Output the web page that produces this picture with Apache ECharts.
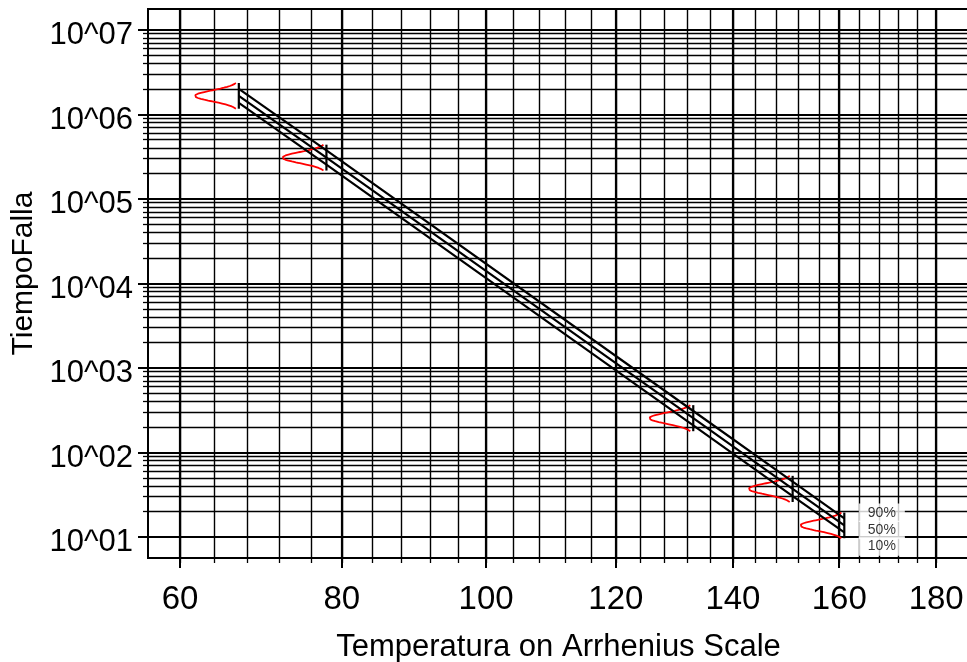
<!DOCTYPE html>
<html>
<head>
<meta charset="utf-8">
<script src="https://cdn.jsdelivr.net/npm/echarts@6/dist/echarts.min.js"></script>
<style>
  html, body { margin: 0; padding: 0; background: #fff; }
  #chart { width: 967px; height: 662px; }
</style>
</head>
<body>
<div id="chart"></div>
<script>
// Stress temperatures (°C) of the life test
const stressTemps = [67, 78, 133, 151, 161];
// Failure-time percentiles at each stress temperature
const time10 = [1.36e6, 2.53e5, 209, 30.4, 11.3];
const time50 = [1.65e6, 3.07e5, 254, 37.0, 13.7];
const time90 = [2.00e6, 3.73e5, 309, 45.0, 16.6];
const percentNames = ['10%', '50%', '90%'];

// Axis ticks
const tempMajorTicks = [60, 80, 100, 120, 140, 160, 180];
const tempMinorTicks = [60, 64, 68, 72, 76, 80, 84, 88, 92, 96, 100, 104, 108, 112, 116, 120,
                        124, 128, 132, 136, 140, 144, 148, 152, 156, 160, 164, 168, 172, 176, 180];
const decadeExponents = [1, 2, 3, 4, 5, 6, 7];
const subDecadeFactors = [2, 3, 4, 5, 6, 7, 8, 9];

const KELVIN = 273.15;
const FONT = '"Liberation Sans", Arial, sans-serif';
// Arrhenius coordinate: reciprocal absolute temperature
const arr = t => 1 / (t + KELVIN);
const lg = v => Math.log10(v);

const xRange = [arr(187.2), arr(56.3)];
const yRange = [0.751, 7.245];

// intermediate gridlines 2..9 x 10^n inside each labelled decade
const yMinorVals = [];
for (const e of decadeExponents) {
  for (const f of subDecadeFactors) {
    const v = e + lg(f);
    if (v > yRange[0] && v < yRange[1]) yMinorVals.push(v);
  }
}

// lognormal spread (log10) implied by the 10% / 90% percentiles
const Z90 = 1.2816, Z99 = 2.3263;
const sigmas = stressTemps.map((t, i) => (lg(time90[i]) - lg(time10[i])) / (2 * Z90));
// horizontal extent of the density curves, in reciprocal-kelvin units
const PDF_WIDTH = 4.63e-5;

function xAxisDef(vals, major) {
  return {
    type: 'value', position: 'bottom', inverse: true,
    min: xRange[0], max: xRange[1],
    name: major ? 'Temperatura on Arrhenius Scale' : '',
    nameLocation: 'middle', nameGap: 74,
    nameTextStyle: { fontFamily: FONT, fontSize: 31, color: '#000' },
    axisLine: { show: major, lineStyle: { color: '#000', width: 2 } },
    axisTick: { show: true, customValues: vals, length: major ? 10 : 5,
                lineStyle: { color: '#000', width: major ? 2 : 1.3 } },
    axisLabel: { show: major, customValues: vals, margin: 25,
                 fontFamily: FONT, fontSize: 33, color: '#000',
                 formatter: v => String(Math.round(1 / v - KELVIN)) },
    splitLine: { show: true, lineStyle: { color: '#000', width: major ? 2.2 : 1.4 } }
  };
}

function yAxisDef(vals, major) {
  return {
    type: 'value', position: 'left',
    min: yRange[0], max: yRange[1],
    name: major ? 'TiempoFalla' : '',
    nameLocation: 'middle', nameGap: 101,
    nameTextStyle: { fontFamily: FONT, fontSize: 30, color: '#000', padding: [0, 0, 0, 20] },
    axisLine: { show: major, lineStyle: { color: '#000', width: 2 } },
    axisTick: { show: true, customValues: vals, length: major ? 10 : 5,
                lineStyle: { color: '#000', width: major ? 2 : 1.3 } },
    axisLabel: { show: major, customValues: vals, margin: 15,
                 verticalAlign: 'top', lineHeight: 12,
                 fontFamily: FONT, fontSize: 31, color: '#000',
                 formatter: v => '10^' + String(Math.round(v)).padStart(2, '0') },
    splitLine: { show: true, lineStyle: { color: '#000', width: major ? 2.2 : 1.4 } }
  };
}

const series = [];

// percentile lines across the stress temperatures
const percentileSets = [time10, time50, time90];
percentileSets.forEach((set, k) => {
  series.push({
    type: 'line', name: percentNames[k], xAxisIndex: 1, yAxisIndex: 1,
    data: stressTemps.map((t, i) => [arr(t), lg(set[i])]),
    symbol: 'none', silent: true, z: 5,
    lineStyle: { color: '#000', width: 2.2 }
  });
});

// percentile names beside the last stress level
const last = stressTemps.length - 1;
const labelShift = [14, 4.5, -5.5];
series.push({
  type: 'scatter', xAxisIndex: 1, yAxisIndex: 1, silent: true, z: 6,
  symbolSize: 1, itemStyle: { color: 'rgba(0,0,0,0)' },
  data: percentileSets.map((set, k) => ({
    value: [arr(stressTemps[last]), lg(set[last])],
    label: {
      show: true, formatter: percentNames[k], position: 'right', distance: 14,
      offset: [0, labelShift[k]],
      fontFamily: FONT, fontSize: 14, color: '#000',
      backgroundColor: '#fff', padding: [2, 9, 2, 9], lineHeight: 14.5
    }
  }))
});

// vertical bar spanning 1%..99% at each stress temperature
stressTemps.forEach((t, i) => {
  const m = lg(time50[i]), s = sigmas[i];
  series.push({
    type: 'line', xAxisIndex: 1, yAxisIndex: 1, symbol: 'none', silent: true, z: 5,
    lineStyle: { color: '#000', width: 2.2 },
    data: [[arr(t), m - Z99 * s], [arr(t), m + Z99 * s]]
  });
});

// lognormal density of the failure time at each stress temperature
stressTemps.forEach((t, i) => {
  const m = lg(time50[i]), s = sigmas[i], pts = [];
  for (let j = 0; j <= 60; j++) {
    const z = -Z99 + (2 * Z99) * j / 60;
    pts.push([arr(t) + PDF_WIDTH * Math.exp(-z * z / 2), m + z * s]);
  }
  series.push({
    type: 'line', xAxisIndex: 1, yAxisIndex: 1, symbol: 'none', silent: true, z: 4,
    lineStyle: { color: '#ff0000', width: 1.8 }, data: pts
  });
});

const chart = echarts.init(document.getElementById('chart'), null, { renderer: 'canvas' });
chart.setOption({
  animation: false,
  backgroundColor: '#fff',
  grid: { left: 148, right: -2, top: 9, bottom: 104, containLabel: false, outerBoundsMode: 'none',
          show: true, borderColor: '#000', borderWidth: 2 },
  xAxis: [xAxisDef(tempMinorTicks.map(arr), false), xAxisDef(tempMajorTicks.map(arr), true)],
  yAxis: [yAxisDef(yMinorVals, false), yAxisDef(decadeExponents, true)],
  series: series
});
</script>
</body>
</html>
